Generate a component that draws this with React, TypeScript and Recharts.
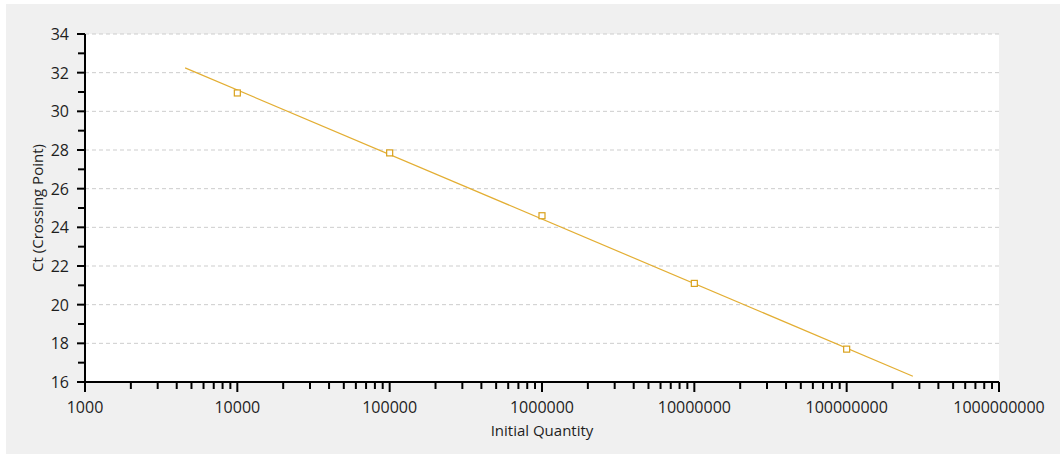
import React from 'react';
import { ComposedChart, Scatter, XAxis, YAxis, CartesianGrid, ReferenceLine } from 'recharts';

// Standard-curve points
const quantities = [10000, 100000, 1000000, 10000000, 100000000];
const ctValues = [30.95, 27.85, 24.6, 21.1, 17.7];

// Regression line endpoints
const fitQuantities = [4540, 272000000];
const fitCt = [32.25, 16.3];

// Axis ticks
const xMajorTicks = [1000, 10000, 100000, 1000000, 10000000, 100000000, 1000000000];
const xMinorMultipliers = [2, 3, 4, 5, 6, 7, 8, 9];
const yMajorTicks = [16, 18, 20, 22, 24, 26, 28, 30, 32, 34];
const yMinorTicks = [17, 19, 21, 23, 25, 27, 29, 31, 33];

const pointData = quantities.map((q, i) => ({ x: q, y: ctValues[i] }));
const fitData = fitQuantities.map((q, i) => ({ x: q, y: fitCt[i] }));

const xTicks: number[] = [];
xMajorTicks.forEach((d, i) => {
  xTicks.push(d);
  if (i < xMajorTicks.length - 1) xMinorMultipliers.forEach((m) => xTicks.push(m * d));
});
xTicks.sort((a, b) => a - b);
const yTicks = [...yMajorTicks, ...yMinorTicks].sort((a, b) => a - b);

const FONT = '"Open Sans", "Noto Sans", sans-serif';
const TEXT = '#1e1e1e';
const LINE_COLOR = '#E3AE33';
const MARK_COLOR = '#D9A11C';

const XTick = (props: any) => {
  const { x, y, payload } = props;
  const v = payload.value;
  const major = xMajorTicks.includes(v);
  return (
    <g>
      <line x1={x} x2={x} y1={y} y2={y + (major ? 10 : 7)} stroke="#000" strokeWidth={2} />
      {major && (
        <text x={x} y={y + 31} textAnchor="middle" fontFamily={FONT} fontSize={16} fill={TEXT}>
          {String(v)}
        </text>
      )}
    </g>
  );
};

const YTick = (props: any) => {
  const { x, y, payload } = props;
  const v = payload.value;
  const major = yMajorTicks.includes(v);
  return (
    <g>
      <line x1={x - (major ? 8 : 7)} x2={x} y1={y} y2={y} stroke="#000" strokeWidth={2} />
      {major && (
        <text x={x - 16} y={y + 6} textAnchor="end" fontFamily={FONT} fontSize={16} fill={TEXT}>
          {String(v)}
        </text>
      )}
    </g>
  );
};

const SquareMark = (props: any) => {
  const { cx, cy } = props;
  if (cx == null || cy == null) return <g />;
  return <rect x={cx - 3} y={cy - 3} width={6} height={6} fill="#fff" stroke={MARK_COLOR} strokeWidth={1.2} />;
};

const NoMark = () => <g />;

export default function App() {
  return (
    <div style={{ position: 'absolute', left: 0, top: 0, width: 1060, height: 454, background: '#fff', overflow: 'hidden' }}>
      <div style={{ position: 'absolute', left: 6, top: 4, right: 0, bottom: 0, background: '#f0f0f0' }} />
      <div style={{ position: 'absolute', left: 0, top: 0 }}>
        <ComposedChart width={1060} height={454} margin={{ top: 34, right: 61, bottom: 0, left: 0 }}>
          <CartesianGrid horizontal={false} vertical={false} fill="#fff" stroke="none" />
          {yMajorTicks.map((t) => (
            <ReferenceLine key={t} y={t} stroke="#cdcdcd" strokeDasharray="4 3" strokeWidth={1} />
          ))}
          <XAxis
            dataKey="x"
            type="number"
            scale="log"
            domain={[1000, 1000000000]}
            allowDataOverflow
            ticks={xTicks}
            interval={0}
            tick={<XTick />}
            tickLine={false}
            tickSize={0}
            tickMargin={0}
            axisLine={{ stroke: '#000', strokeWidth: 2 }}
            height={72}
            label={{ value: 'Initial Quantity', position: 'insideBottom', offset: 18, fill: TEXT, fontSize: 15, fontFamily: FONT }}
          />
          <YAxis
            dataKey="y"
            type="number"
            domain={[16, 34]}
            allowDataOverflow
            ticks={yTicks}
            interval={0}
            tick={<YTick />}
            tickLine={false}
            tickSize={0}
            tickMargin={0}
            axisLine={{ stroke: '#000', strokeWidth: 2 }}
            width={85}
            label={{ value: 'Ct (Crossing Point)', angle: -90, position: 'insideLeft', offset: 38, fill: TEXT, fontSize: 15, fontFamily: FONT, style: { textAnchor: 'middle' } }}
          />
          <Scatter
            data={fitData}
            line={{ stroke: LINE_COLOR, strokeWidth: 1.2 }}
            shape={<NoMark />}
            isAnimationActive={false}
          />
          <Scatter data={pointData} shape={<SquareMark />} isAnimationActive={false} />
        </ComposedChart>
      </div>
    </div>
  );
}
